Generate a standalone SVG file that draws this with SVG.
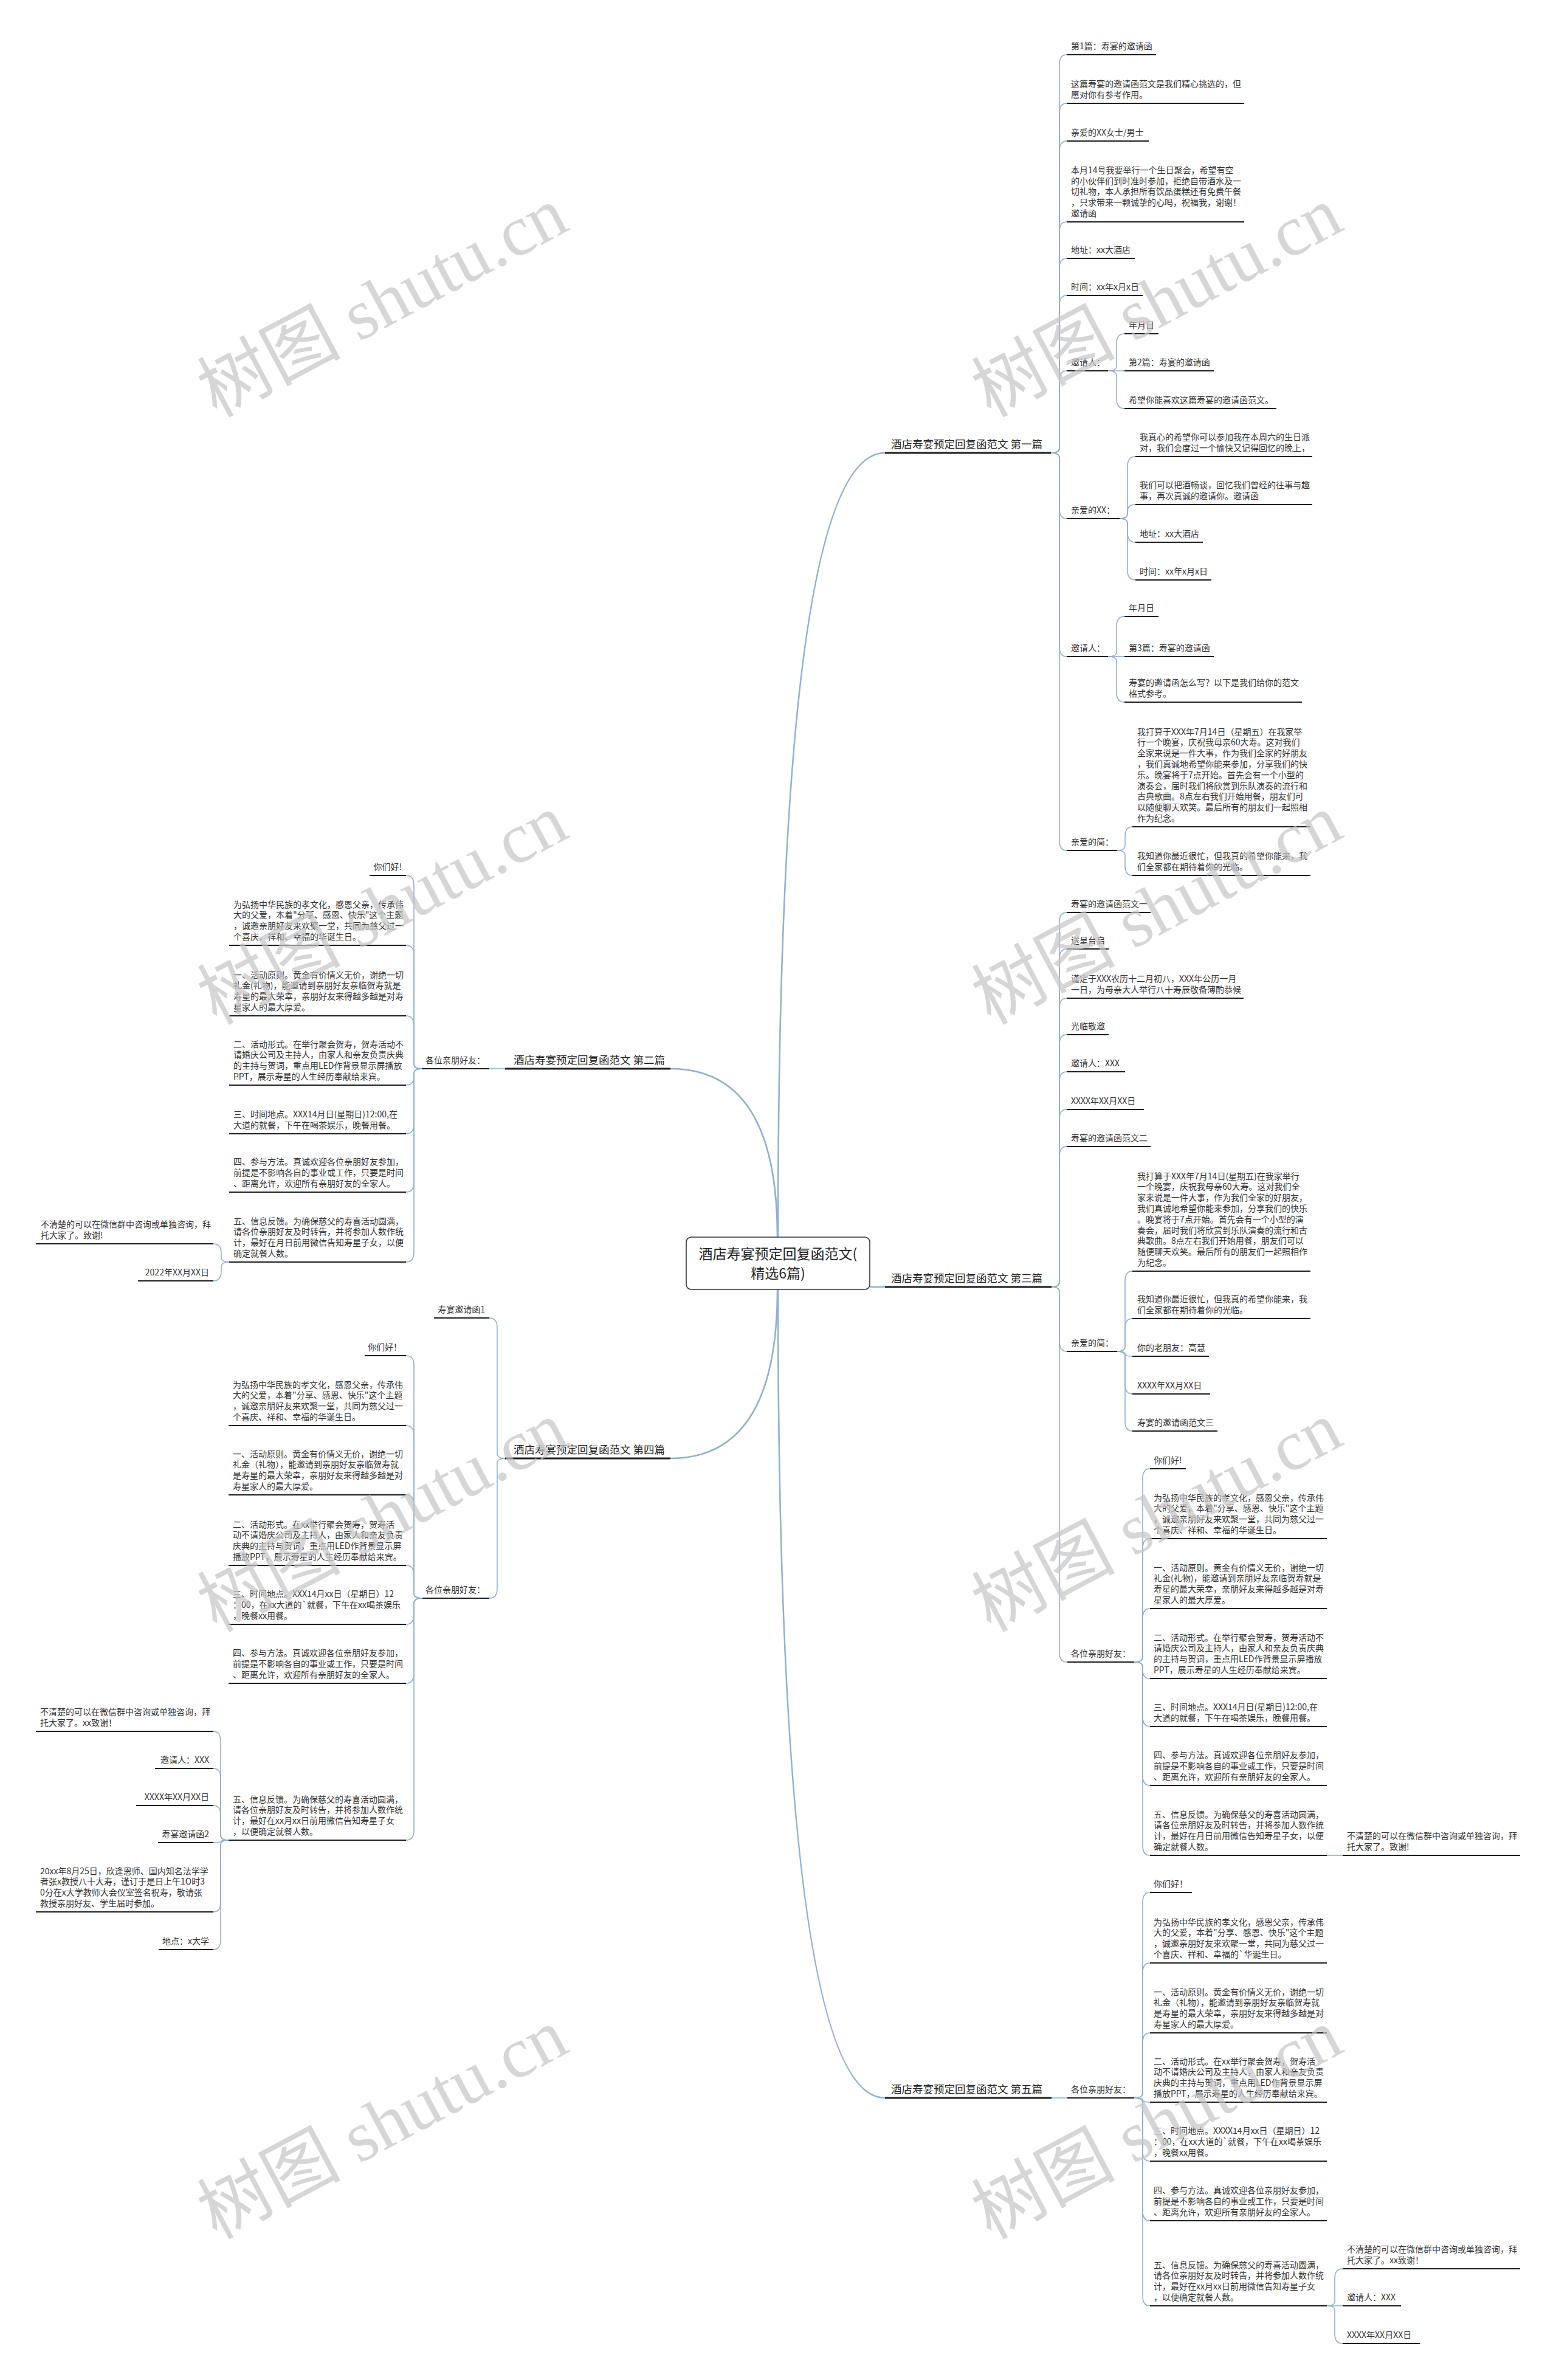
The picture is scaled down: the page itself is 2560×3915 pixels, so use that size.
<svg xmlns="http://www.w3.org/2000/svg" width="2560" height="3915" viewBox="0 0 2560 3915">
<style>
text{font-family:"Noto Sans CJK SC","Liberation Sans",sans-serif;fill:#333;font-size:14px}
.br{font-size:17.5px;fill:#222}
.rt{font-size:23px;fill:#222;text-anchor:middle}
.e{text-anchor:end}
.u{stroke:#1e1e1e;stroke-width:2.2}
.ub{stroke:#1e1e1e;stroke-width:2.8}
.c{fill:none;stroke:#8fb1d3;stroke-width:1.6}
.cm{fill:none;stroke:#8fb1d3;stroke-width:2.6}
.wm{font-family:"Liberation Serif","Noto Sans CJK SC",serif;font-size:118px;fill:#c4c4c4;fill-opacity:.7;text-anchor:middle}
</style>
<rect width="2560" height="3915" fill="#fff"/>
<g id="connectors">
<path class="cm" d="M1280 2035 Q1280 745 1456 745"/>
<path class="cm" d="M1279 2035 Q1279 1758 1103 1758"/>
<path class="cm" d="M1431 2117 H1456"/>
<path class="cm" d="M1279 2121 Q1279 2399 1103 2399"/>
<path class="cm" d="M1280 2121 Q1280 3451 1456 3451"/>
<path class="c" d="M1729 745 Q1743 745 1743 737 V106 Q1743 90 1755 90"/>
<path class="c" d="M1729 745 Q1743 745 1743 737 V186 Q1743 170 1755 170"/>
<path class="c" d="M1729 745 Q1743 745 1743 737 V248 Q1743 232 1755 232"/>
<path class="c" d="M1729 745 Q1743 745 1743 737 V381 Q1743 365 1755 365"/>
<path class="c" d="M1729 745 Q1743 745 1743 737 V441 Q1743 425 1755 425"/>
<path class="c" d="M1729 745 Q1743 745 1743 737 V502 Q1743 486 1755 486"/>
<path class="c" d="M1729 745 Q1743 745 1743 737 V626 Q1743 610 1755 610"/>
<path class="c" d="M1729 745 Q1743 745 1743 753 V837 Q1743 853 1755 853"/>
<path class="c" d="M1729 745 Q1743 745 1743 753 V1064 Q1743 1080 1755 1080"/>
<path class="c" d="M1729 745 Q1743 745 1743 753 V1383 Q1743 1399 1755 1399"/>
<path class="c" d="M1823 610 Q1837 610 1837 602 V565 Q1837 549 1850 549"/>
<path class="c" d="M1823 610 H1850"/>
<path class="c" d="M1823 610 Q1837 610 1837 618 V656 Q1837 672 1850 672"/>
<path class="c" d="M1842 853 Q1855 853 1855 845 V767 Q1855 751 1868 751"/>
<path class="c" d="M1842 853 Q1855 853 1855 845 V841.5 Q1855 830 1868 830"/>
<path class="c" d="M1842 853 Q1855 853 1855 861 V876 Q1855 892 1868 892"/>
<path class="c" d="M1842 853 Q1855 853 1855 861 V938 Q1855 954 1868 954"/>
<path class="c" d="M1823 1080 Q1837 1080 1837 1072 V1030 Q1837 1014 1850 1014"/>
<path class="c" d="M1823 1080 H1850"/>
<path class="c" d="M1823 1080 Q1837 1080 1837 1088 V1139 Q1837 1155 1850 1155"/>
<path class="c" d="M1838 1399 Q1851 1399 1851 1391 V1376 Q1851 1360 1863 1360"/>
<path class="c" d="M1838 1399 Q1851 1399 1851 1407 V1424 Q1851 1440 1863 1440"/>
<path class="c" d="M1730 2117 Q1743 2117 1743 2109 V1517 Q1743 1501 1755 1501"/>
<path class="c" d="M1730 2117 Q1743 2117 1743 2109 V1577 Q1743 1561 1755 1561"/>
<path class="c" d="M1730 2117 Q1743 2117 1743 2109 V1658 Q1743 1642 1755 1642"/>
<path class="c" d="M1730 2117 Q1743 2117 1743 2109 V1718 Q1743 1702 1755 1702"/>
<path class="c" d="M1730 2117 Q1743 2117 1743 2109 V1779 Q1743 1763 1755 1763"/>
<path class="c" d="M1730 2117 Q1743 2117 1743 2109 V1841 Q1743 1825 1755 1825"/>
<path class="c" d="M1730 2117 Q1743 2117 1743 2109 V1902 Q1743 1886 1755 1886"/>
<path class="c" d="M1730 2117 Q1743 2117 1743 2125 V2207 Q1743 2223 1755 2223"/>
<path class="c" d="M1730 2117 Q1743 2117 1743 2125 V2718 Q1743 2734 1755 2734"/>
<path class="c" d="M1838 2223 Q1851 2223 1851 2215 V2107 Q1851 2091 1863 2091"/>
<path class="c" d="M1838 2223 Q1851 2223 1851 2215 V2185 Q1851 2169 1863 2169"/>
<path class="c" d="M1838 2223 Q1851 2223 1851 2227 Q1851 2231 1863 2231"/>
<path class="c" d="M1838 2223 Q1851 2223 1851 2231 V2277 Q1851 2293 1863 2293"/>
<path class="c" d="M1838 2223 Q1851 2223 1851 2231 V2338 Q1851 2354 1863 2354"/>
<path class="c" d="M1866 2734 Q1880 2734 1880 2726 V2432 Q1880 2416 1892 2416"/>
<path class="c" d="M1866 2734 Q1880 2734 1880 2726 V2547 Q1880 2531 1892 2531"/>
<path class="c" d="M1866 2734 Q1880 2734 1880 2726 V2662 Q1880 2646 1892 2646"/>
<path class="c" d="M1866 2734 Q1880 2734 1880 2742 V2747.5 Q1880 2761 1892 2761"/>
<path class="c" d="M1866 2734 Q1880 2734 1880 2742 V2824 Q1880 2840 1892 2840"/>
<path class="c" d="M1866 2734 Q1880 2734 1880 2742 V2921 Q1880 2937 1892 2937"/>
<path class="c" d="M1866 2734 Q1880 2734 1880 2742 V3036 Q1880 3052 1892 3052"/>
<path class="c" d="M2183 3052 H2209"/>
<path class="c" d="M1730 3451 H1756"/>
<path class="c" d="M1866 3451 Q1880 3451 1880 3443 V3129 Q1880 3113 1892 3113"/>
<path class="c" d="M1866 3451 Q1880 3451 1880 3443 V3245 Q1880 3229 1892 3229"/>
<path class="c" d="M1866 3451 Q1880 3451 1880 3443 V3360 Q1880 3344 1892 3344"/>
<path class="c" d="M1866 3451 Q1880 3451 1880 3454.5 Q1880 3458 1892 3458"/>
<path class="c" d="M1866 3451 Q1880 3451 1880 3459 V3539 Q1880 3555 1892 3555"/>
<path class="c" d="M1866 3451 Q1880 3451 1880 3459 V3637 Q1880 3653 1892 3653"/>
<path class="c" d="M1866 3451 Q1880 3451 1880 3459 V3777 Q1880 3793 1892 3793"/>
<path class="c" d="M2183 3793 Q2196 3793 2196 3785 V3748 Q2196 3732 2209 3732"/>
<path class="c" d="M2183 3793 H2209"/>
<path class="c" d="M2183 3793 Q2196 3793 2196 3801 V3839 Q2196 3855 2209 3855"/>
<path class="c" d="M831 1758 H805"/>
<path class="c" d="M694 1758 Q681 1758 681 1750 V1456 Q681 1440 668 1440"/>
<path class="c" d="M694 1758 Q681 1758 681 1750 V1571 Q681 1555 668 1555"/>
<path class="c" d="M694 1758 Q681 1758 681 1750 V1687 Q681 1671 668 1671"/>
<path class="c" d="M694 1758 Q681 1758 681 1766 V1771.5 Q681 1785 668 1785"/>
<path class="c" d="M694 1758 Q681 1758 681 1766 V1849 Q681 1865 668 1865"/>
<path class="c" d="M694 1758 Q681 1758 681 1766 V1945 Q681 1961 668 1961"/>
<path class="c" d="M694 1758 Q681 1758 681 1766 V2060 Q681 2076 668 2076"/>
<path class="c" d="M377 2076 Q364 2076 364 2068 V2062 Q364 2046 351 2046"/>
<path class="c" d="M377 2076 Q364 2076 364 2084 V2091 Q364 2107 351 2107"/>
<path class="c" d="M831 2399 Q818 2399 818 2391 V2184 Q818 2168 805 2168"/>
<path class="c" d="M831 2399 Q818 2399 818 2407 V2613 Q818 2629 805 2629"/>
<path class="c" d="M695 2629 Q681 2629 681 2621 V2246 Q681 2230 668 2230"/>
<path class="c" d="M695 2629 Q681 2629 681 2621 V2361 Q681 2345 668 2345"/>
<path class="c" d="M695 2629 Q681 2629 681 2621 V2475 Q681 2459 668 2459"/>
<path class="c" d="M695 2629 Q681 2629 681 2621 V2591 Q681 2575 668 2575"/>
<path class="c" d="M695 2629 Q681 2629 681 2637 V2656 Q681 2672 668 2672"/>
<path class="c" d="M695 2629 Q681 2629 681 2637 V2753 Q681 2769 668 2769"/>
<path class="c" d="M695 2629 Q681 2629 681 2637 V3011 Q681 3027 668 3027"/>
<path class="c" d="M376 3027 Q363 3027 363 3019 V2864 Q363 2848 351 2848"/>
<path class="c" d="M376 3027 Q363 3027 363 3019 V2925 Q363 2909 351 2909"/>
<path class="c" d="M376 3027 Q363 3027 363 3019 V2986 Q363 2970 351 2970"/>
<path class="c" d="M376 3027 Q363 3027 363 3029 Q363 3031 351 3031"/>
<path class="c" d="M376 3027 Q363 3027 363 3035 V3129 Q363 3145 351 3145"/>
<path class="c" d="M376 3027 Q363 3027 363 3035 V3191 Q363 3207 351 3207"/>
</g>

<g id="root">
<rect x="1129" y="2035" width="302" height="86" rx="8" fill="#fff" stroke="#333" stroke-width="1.6"/>
<text class="rt" x="1280" y="2071">酒店寿宴预定回复函范文(</text>
<text class="rt" x="1280" y="2103">精选6篇)</text>
</g>

<g id="b1"><line class="ub" x1="1456" y1="745" x2="1729" y2="745"/><text class="br" x="1466" y="737">酒店寿宴预定回复函范文 第一篇</text></g>
<g id="b2"><line class="ub" x1="831" y1="1758" x2="1103" y2="1758"/><text class="br e" x="1094" y="1750">酒店寿宴预定回复函范文 第二篇</text></g>
<g id="b3"><line class="ub" x1="1456" y1="2117" x2="1730" y2="2117"/><text class="br" x="1466" y="2109">酒店寿宴预定回复函范文 第三篇</text></g>
<g id="b4"><line class="ub" x1="831" y1="2399" x2="1103" y2="2399"/><text class="br e" x="1094" y="2391">酒店寿宴预定回复函范文 第四篇</text></g>
<g id="b5"><line class="ub" x1="1456" y1="3451" x2="1730" y2="3451"/><text class="br" x="1466" y="3443">酒店寿宴预定回复函范文 第五篇</text></g>

<!-- branch 1 -->
<g id="n1-1"><line class="u" x1="1755" y1="90" x2="1902" y2="90"/><text x="1762" y="81">第1篇：寿宴的邀请函</text></g>
<g id="n1-2"><line class="u" x1="1755" y1="170" x2="2047" y2="170"/><text x="1762" y="143.2">这篇寿宴的邀请函范文是我们精心挑选的，但</text><text x="1762" y="161">愿对你有参考作用。</text></g>
<g id="n1-3"><line class="u" x1="1755" y1="232" x2="1890" y2="232"/><text x="1762" y="223">亲爱的XX女士/男士</text></g>
<g id="n1-4"><line class="u" x1="1755" y1="365" x2="2047" y2="365"/><text x="1762" y="284.8">本月14号我要举行一个生日聚会，希望有空</text><text x="1762" y="302.6">的小伙伴们到时准时参加，拒绝自带酒水及一</text><text x="1762" y="320.4">切礼物，本人承担所有饮品蛋糕还有免费午餐</text><text x="1762" y="338.2">，只求带来一颗诚挚的心吗，祝福我，谢谢！</text><text x="1762" y="356">邀请函</text></g>
<g id="n1-5"><line class="u" x1="1755" y1="425" x2="1867" y2="425"/><text x="1762" y="416">地址：xx大酒店</text></g>
<g id="n1-6"><line class="u" x1="1755" y1="486" x2="1880" y2="486"/><text x="1762" y="477">时间：xx年x月x日</text></g>
<g id="n1-7"><line class="u" x1="1755" y1="610" x2="1823" y2="610"/><text x="1762" y="601">邀请人：</text></g>
<g id="n1-7-1"><line class="u" x1="1850" y1="549" x2="1906" y2="549"/><text x="1857" y="540">年月日</text></g>
<g id="n1-7-2"><line class="u" x1="1850" y1="610" x2="1997" y2="610"/><text x="1857" y="601">第2篇：寿宴的邀请函</text></g>
<g id="n1-7-3"><line class="u" x1="1850" y1="672" x2="2100" y2="672"/><text x="1857" y="663">希望你能喜欢这篇寿宴的邀请函范文。</text></g>
<g id="n1-8"><line class="u" x1="1755" y1="853" x2="1842" y2="853"/><text x="1762" y="844">亲爱的XX：</text></g>
<g id="n1-8-1"><line class="u" x1="1868" y1="751" x2="2159" y2="751"/><text x="1875" y="724.2">我真心的希望你可以参加我在本周六的生日派</text><text x="1875" y="742">对，我们会度过一个愉快又记得回忆的晚上，</text></g>
<g id="n1-8-2"><line class="u" x1="1868" y1="830" x2="2159" y2="830"/><text x="1875" y="803.2">我们可以把酒畅谈，回忆我们曾经的往事与趣</text><text x="1875" y="821">事，再次真诚的邀请你。邀请函</text></g>
<g id="n1-8-3"><line class="u" x1="1868" y1="892" x2="1979" y2="892"/><text x="1875" y="883">地址：xx大酒店</text></g>
<g id="n1-8-4"><line class="u" x1="1868" y1="954" x2="1993" y2="954"/><text x="1875" y="945">时间：xx年x月x日</text></g>
<g id="n1-9"><line class="u" x1="1755" y1="1080" x2="1823" y2="1080"/><text x="1762" y="1071">邀请人：</text></g>
<g id="n1-9-1"><line class="u" x1="1850" y1="1014" x2="1906" y2="1014"/><text x="1857" y="1005">年月日</text></g>
<g id="n1-9-2"><line class="u" x1="1850" y1="1080" x2="1997" y2="1080"/><text x="1857" y="1071">第3篇：寿宴的邀请函</text></g>
<g id="n1-9-3"><line class="u" x1="1850" y1="1155" x2="2142" y2="1155"/><text x="1857" y="1128.2">寿宴的邀请函怎么写？以下是我们给你的范文</text><text x="1857" y="1146">格式参考。</text></g>
<g id="n1-10"><line class="u" x1="1755" y1="1399" x2="1838" y2="1399"/><text x="1762" y="1390">亲爱的简：</text></g>
<g id="n1-10-1"><line class="u" x1="1863" y1="1360" x2="2156" y2="1360"/><text x="1871" y="1208.6">我打算于XXX年7月14日（星期五）在我家举</text><text x="1871" y="1226.4">行一个晚宴，庆祝我母亲60大寿。这对我们</text><text x="1871" y="1244.2">全家来说是一件大事，作为我们全家的好朋友</text><text x="1871" y="1262">，我们真诚地希望你能来参加，分享我们的快</text><text x="1871" y="1279.8">乐。晚宴将于7点开始。首先会有一个小型的</text><text x="1871" y="1297.6">演奏会，届时我们将欣赏到乐队演奏的流行和</text><text x="1871" y="1315.4">古典歌曲。8点左右我们开始用餐，朋友们可</text><text x="1871" y="1333.2">以随便聊天欢笑。最后所有的朋友们一起照相</text><text x="1871" y="1351">作为纪念。</text></g>
<g id="n1-10-2"><line class="u" x1="1863" y1="1440" x2="2156" y2="1440"/><text x="1871" y="1413.2">我知道你最近很忙，但我真的希望你能来，我</text><text x="1871" y="1431">们全家都在期待着你的光临。</text></g>

<!-- branch 3 -->
<g id="n3-1"><line class="u" x1="1755" y1="1501" x2="1893" y2="1501"/><text x="1762" y="1492">寿宴的邀请函范文一</text></g>
<g id="n3-2"><line class="u" x1="1755" y1="1561" x2="1824" y2="1561"/><text x="1762" y="1552">送呈台启</text></g>
<g id="n3-3"><line class="u" x1="1755" y1="1642" x2="2046" y2="1642"/><text x="1762" y="1615.2">谨定于XXX农历十二月初八，XXX年公历一月</text><text x="1762" y="1633">一日，为母亲大人举行八十寿辰敬备薄酌恭候</text></g>
<g id="n3-4"><line class="u" x1="1755" y1="1702" x2="1824" y2="1702"/><text x="1762" y="1693">光临敬邀</text></g>
<g id="n3-5"><line class="u" x1="1755" y1="1763" x2="1851" y2="1763"/><text x="1762" y="1754">邀请人：XXX</text></g>
<g id="n3-6"><line class="u" x1="1755" y1="1825" x2="1882" y2="1825"/><text x="1762" y="1816">XXXX年XX月XX日</text></g>
<g id="n3-7"><line class="u" x1="1755" y1="1886" x2="1893" y2="1886"/><text x="1762" y="1877">寿宴的邀请函范文二</text></g>
<g id="n3-8"><line class="u" x1="1755" y1="2223" x2="1838" y2="2223"/><text x="1762" y="2214">亲爱的简：</text></g>
<g id="n3-8-1"><line class="u" x1="1863" y1="2091" x2="2156" y2="2091"/><text x="1871" y="1939.6">我打算于XXX年7月14日(星期五)在我家举行</text><text x="1871" y="1957.4">一个晚宴，庆祝我母亲60大寿。这对我们全</text><text x="1871" y="1975.2">家来说是一件大事，作为我们全家的好朋友，</text><text x="1871" y="1993">我们真诚地希望你能来参加，分享我们的快乐</text><text x="1871" y="2010.8">。晚宴将于7点开始。首先会有一个小型的演</text><text x="1871" y="2028.6">奏会，届时我们将欣赏到乐队演奏的流行和古</text><text x="1871" y="2046.4">典歌曲。8点左右我们开始用餐，朋友们可以</text><text x="1871" y="2064.2">随便聊天欢笑。最后所有的朋友们一起照相作</text><text x="1871" y="2082">为纪念。</text></g>
<g id="n3-8-2"><line class="u" x1="1863" y1="2169" x2="2156" y2="2169"/><text x="1871" y="2142.2">我知道你最近很忙，但我真的希望你能来，我</text><text x="1871" y="2160">们全家都在期待着你的光临。</text></g>
<g id="n3-8-3"><line class="u" x1="1863" y1="2231" x2="1989" y2="2231"/><text x="1871" y="2222">你的老朋友：高慧</text></g>
<g id="n3-8-4"><line class="u" x1="1863" y1="2293" x2="1991" y2="2293"/><text x="1871" y="2284">XXXX年XX月XX日</text></g>
<g id="n3-8-5"><line class="u" x1="1863" y1="2354" x2="2003" y2="2354"/><text x="1871" y="2345">寿宴的邀请函范文三</text></g>
<g id="n3-9"><line class="u" x1="1756" y1="2734" x2="1866" y2="2734"/><text x="1762" y="2725">各位亲朋好友：</text></g>
<g id="n3-9-1"><line class="u" x1="1892" y1="2416" x2="1951" y2="2416"/><text x="1898" y="2407">你们好!</text></g>
<g id="n3-9-2"><line class="u" x1="1892" y1="2531" x2="2183" y2="2531"/><text x="1898" y="2468.6">为弘扬中华民族的孝文化，感恩父亲，传承伟</text><text x="1898" y="2486.4">大的父爱，本着"分享、感恩、快乐"这个主题</text><text x="1898" y="2504.2">，诚邀亲朋好友来欢聚一堂，共同为慈父过一</text><text x="1898" y="2522">个喜庆、祥和、幸福的华诞生日。</text></g>
<g id="n3-9-3"><line class="u" x1="1892" y1="2646" x2="2183" y2="2646"/><text x="1898" y="2583.6">一、活动原则。黄金有价情义无价，谢绝一切</text><text x="1898" y="2601.4">礼金(礼物)，能邀请到亲朋好友亲临贺寿就是</text><text x="1898" y="2619.2">寿星的最大荣幸，亲朋好友来得越多越是对寿</text><text x="1898" y="2637">星家人的最大厚爱。</text></g>
<g id="n3-9-4"><line class="u" x1="1892" y1="2761" x2="2183" y2="2761"/><text x="1898" y="2698.6">二、活动形式。在举行聚会贺寿，贺寿活动不</text><text x="1898" y="2716.4">请婚庆公司及主持人，由家人和亲友负责庆典</text><text x="1898" y="2734.2">的主持与贺词，重点用LED作背景显示屏播放</text><text x="1898" y="2752">PPT，展示寿星的人生经历奉献给来宾。</text></g>
<g id="n3-9-5"><line class="u" x1="1892" y1="2840" x2="2183" y2="2840"/><text x="1898" y="2813.2">三、时间地点。XXX14月日(星期日)12:00,在</text><text x="1898" y="2831">大道的就餐，下午在喝茶娱乐，晚餐用餐。</text></g>
<g id="n3-9-6"><line class="u" x1="1892" y1="2937" x2="2183" y2="2937"/><text x="1898" y="2892.4">四、参与方法。真诚欢迎各位亲朋好友参加，</text><text x="1898" y="2910.2">前提是不影响各自的事业或工作，只要是时间</text><text x="1898" y="2928">、距离允许，欢迎所有亲朋好友的全家人。</text></g>
<g id="n3-9-7"><line class="u" x1="1892" y1="3052" x2="2183" y2="3052"/><text x="1898" y="2989.6">五、信息反馈。为确保慈父的寿喜活动圆满，</text><text x="1898" y="3007.4">请各位亲朋好友及时转告，并将参加人数作统</text><text x="1898" y="3025.2">计，最好在月日前用微信告知寿星子女，以便</text><text x="1898" y="3043">确定就餐人数。</text></g>
<g id="n3-9-7-1"><line class="u" x1="2209" y1="3052" x2="2501" y2="3052"/><text x="2216" y="3025.2">不清楚的可以在微信群中咨询或单独咨询，拜</text><text x="2216" y="3043">托大家了。致谢!</text></g>

<!-- branch 5 -->
<g id="n5-1"><line class="u" x1="1756" y1="3451" x2="1866" y2="3451"/><text x="1762" y="3442">各位亲朋好友：</text></g>
<g id="n5-1-1"><line class="u" x1="1892" y1="3113" x2="1961" y2="3113"/><text x="1898" y="3104">你们好！</text></g>
<g id="n5-1-2"><line class="u" x1="1892" y1="3229" x2="2183" y2="3229"/><text x="1898" y="3166.6">为弘扬中华民族的孝文化，感恩父亲，传承伟</text><text x="1898" y="3184.4">大的父爱，本着"分享、感恩、快乐"这个主题</text><text x="1898" y="3202.2">，诚邀亲朋好友来欢聚一堂，共同为慈父过一</text><text x="1898" y="3220">个喜庆、祥和、幸福的`华诞生日。</text></g>
<g id="n5-1-3"><line class="u" x1="1892" y1="3344" x2="2183" y2="3344"/><text x="1898" y="3281.6">一、活动原则。黄金有价情义无价，谢绝一切</text><text x="1898" y="3299.4">礼金（礼物），能邀请到亲朋好友亲临贺寿就</text><text x="1898" y="3317.2">是寿星的最大荣幸，亲朋好友来得越多越是对</text><text x="1898" y="3335">寿星家人的最大厚爱。</text></g>
<g id="n5-1-4"><line class="u" x1="1892" y1="3458" x2="2183" y2="3458"/><text x="1898" y="3395.6">二、活动形式。在xx举行聚会贺寿，贺寿活</text><text x="1898" y="3413.4">动不请婚庆公司及主持人，由家人和亲友负责</text><text x="1898" y="3431.2">庆典的主持与贺词，重点用LED作背景显示屏</text><text x="1898" y="3449">播放PPT，展示寿星的人生经历奉献给来宾。</text></g>
<g id="n5-1-5"><line class="u" x1="1892" y1="3555" x2="2183" y2="3555"/><text x="1898" y="3510.4">三、时间地点。XXXX14月xx日（星期日）12</text><text x="1898" y="3528.2">：00，在xx大道的`就餐，下午在xx喝茶娱乐</text><text x="1898" y="3546">，晚餐xx用餐。</text></g>
<g id="n5-1-6"><line class="u" x1="1892" y1="3653" x2="2183" y2="3653"/><text x="1898" y="3608.4">四、参与方法。真诚欢迎各位亲朋好友参加，</text><text x="1898" y="3626.2">前提是不影响各自的事业或工作，只要是时间</text><text x="1898" y="3644">、距离允许，欢迎所有亲朋好友的全家人。</text></g>
<g id="n5-1-7"><line class="u" x1="1892" y1="3793" x2="2183" y2="3793"/><text x="1898" y="3730.6">五、信息反馈。为确保慈父的寿喜活动圆满，</text><text x="1898" y="3748.4">请各位亲朋好友及时转告，并将参加人数作统</text><text x="1898" y="3766.2">计，最好在xx月xx日前用微信告知寿星子女</text><text x="1898" y="3784">，以便确定就餐人数。</text></g>
<g id="n5-1-7-1"><line class="u" x1="2209" y1="3732" x2="2501" y2="3732"/><text x="2216" y="3705.2">不清楚的可以在微信群中咨询或单独咨询，拜</text><text x="2216" y="3723">托大家了。xx致谢！</text></g>
<g id="n5-1-7-2"><line class="u" x1="2209" y1="3793" x2="2305" y2="3793"/><text x="2216" y="3784">邀请人：XXX</text></g>
<g id="n5-1-7-3"><line class="u" x1="2209" y1="3855" x2="2336" y2="3855"/><text x="2216" y="3846">XXXX年XX月XX日</text></g>

<!-- branch 2 -->
<g id="n2-1"><line class="u" x1="694" y1="1758" x2="805" y2="1758"/><text class="e" x="798" y="1749">各位亲朋好友：</text></g>
<g id="n2-1-1"><line class="u" x1="608" y1="1440" x2="668" y2="1440"/><text class="e" x="661" y="1431">你们好!</text></g>
<g id="n2-1-2"><line class="u" x1="377" y1="1555" x2="668" y2="1555"/><text x="384" y="1492.6">为弘扬中华民族的孝文化，感恩父亲，传承伟</text><text x="384" y="1510.4">大的父爱，本着"分享、感恩、快乐"这个主题</text><text x="384" y="1528.2">，诚邀亲朋好友来欢聚一堂，共同为慈父过一</text><text x="384" y="1546">个喜庆、祥和、幸福的华诞生日。</text></g>
<g id="n2-1-3"><line class="u" x1="377" y1="1671" x2="668" y2="1671"/><text x="384" y="1608.6">一、活动原则。黄金有价情义无价，谢绝一切</text><text x="384" y="1626.4">礼金(礼物)，能邀请到亲朋好友亲临贺寿就是</text><text x="384" y="1644.2">寿星的最大荣幸，亲朋好友来得越多越是对寿</text><text x="384" y="1662">星家人的最大厚爱。</text></g>
<g id="n2-1-4"><line class="u" x1="377" y1="1785" x2="668" y2="1785"/><text x="384" y="1722.6">二、活动形式。在举行聚会贺寿，贺寿活动不</text><text x="384" y="1740.4">请婚庆公司及主持人，由家人和亲友负责庆典</text><text x="384" y="1758.2">的主持与贺词，重点用LED作背景显示屏播放</text><text x="384" y="1776">PPT，展示寿星的人生经历奉献给来宾。</text></g>
<g id="n2-1-5"><line class="u" x1="377" y1="1865" x2="668" y2="1865"/><text x="384" y="1838.2">三、时间地点。XXX14月日(星期日)12:00,在</text><text x="384" y="1856">大道的就餐，下午在喝茶娱乐，晚餐用餐。</text></g>
<g id="n2-1-6"><line class="u" x1="377" y1="1961" x2="668" y2="1961"/><text x="384" y="1916.4">四、参与方法。真诚欢迎各位亲朋好友参加，</text><text x="384" y="1934.2">前提是不影响各自的事业或工作，只要是时间</text><text x="384" y="1952">、距离允许，欢迎所有亲朋好友的全家人。</text></g>
<g id="n2-1-7"><line class="u" x1="377" y1="2076" x2="668" y2="2076"/><text x="384" y="2013.6">五、信息反馈。为确保慈父的寿喜活动圆满，</text><text x="384" y="2031.4">请各位亲朋好友及时转告，并将参加人数作统</text><text x="384" y="2049.2">计，最好在月日前用微信告知寿星子女，以便</text><text x="384" y="2067">确定就餐人数。</text></g>
<g id="n2-1-7-1"><line class="u" x1="59" y1="2046" x2="351" y2="2046"/><text x="67" y="2019.2">不清楚的可以在微信群中咨询或单独咨询，拜</text><text x="67" y="2037">托大家了。致谢!</text></g>
<g id="n2-1-7-2"><line class="u" x1="227" y1="2107" x2="351" y2="2107"/><text class="e" x="344" y="2098">2022年XX月XX日</text></g>

<!-- branch 4 -->
<g id="n4-1"><line class="u" x1="714" y1="2168" x2="805" y2="2168"/><text class="e" x="798" y="2159">寿宴邀请函1</text></g>
<g id="n4-2"><line class="u" x1="695" y1="2629" x2="805" y2="2629"/><text class="e" x="798" y="2620">各位亲朋好友：</text></g>
<g id="n4-2-1"><line class="u" x1="600" y1="2230" x2="668" y2="2230"/><text class="e" x="661" y="2221">你们好！</text></g>
<g id="n4-2-2"><line class="u" x1="376" y1="2345" x2="668" y2="2345"/><text x="383" y="2282.6">为弘扬中华民族的孝文化，感恩父亲，传承伟</text><text x="383" y="2300.4">大的父爱，本着"分享、感恩、快乐"这个主题</text><text x="383" y="2318.2">，诚邀亲朋好友来欢聚一堂，共同为慈父过一</text><text x="383" y="2336">个喜庆、祥和、幸福的华诞生日。</text></g>
<g id="n4-2-3"><line class="u" x1="376" y1="2459" x2="668" y2="2459"/><text x="383" y="2396.6">一、活动原则。黄金有价情义无价，谢绝一切</text><text x="383" y="2414.4">礼金（礼物），能邀请到亲朋好友亲临贺寿就</text><text x="383" y="2432.2">是寿星的最大荣幸，亲朋好友来得越多越是对</text><text x="383" y="2450">寿星家人的最大厚爱。</text></g>
<g id="n4-2-4"><line class="u" x1="376" y1="2575" x2="668" y2="2575"/><text x="383" y="2512.6">二、活动形式。在xx举行聚会贺寿，贺寿活</text><text x="383" y="2530.4">动不请婚庆公司及主持人，由家人和亲友负责</text><text x="383" y="2548.2">庆典的主持与贺词，重点用LED作背景显示屏</text><text x="383" y="2566">播放PPT，展示寿星的人生经历奉献给来宾。</text></g>
<g id="n4-2-5"><line class="u" x1="376" y1="2672" x2="668" y2="2672"/><text x="383" y="2627.4">三、时间地点。XXX14月xx日（星期日）12</text><text x="383" y="2645.2">：00，在xx大道的`就餐，下午在xx喝茶娱乐</text><text x="383" y="2663">，晚餐xx用餐。</text></g>
<g id="n4-2-6"><line class="u" x1="376" y1="2769" x2="668" y2="2769"/><text x="383" y="2724.4">四、参与方法。真诚欢迎各位亲朋好友参加，</text><text x="383" y="2742.2">前提是不影响各自的事业或工作，只要是时间</text><text x="383" y="2760">、距离允许，欢迎所有亲朋好友的全家人。</text></g>
<g id="n4-2-7"><line class="u" x1="376" y1="3027" x2="668" y2="3027"/><text x="383" y="2964.6">五、信息反馈。为确保慈父的寿喜活动圆满，</text><text x="383" y="2982.4">请各位亲朋好友及时转告，并将参加人数作统</text><text x="383" y="3000.2">计，最好在xx月xx日前用微信告知寿星子女</text><text x="383" y="3018">，以便确定就餐人数。</text></g>
<g id="n4-2-7-1"><line class="u" x1="59" y1="2848" x2="351" y2="2848"/><text x="66" y="2821.2">不清楚的可以在微信群中咨询或单独咨询，拜</text><text x="66" y="2839">托大家了。xx致谢！</text></g>
<g id="n4-2-7-2"><line class="u" x1="255" y1="2909" x2="351" y2="2909"/><text class="e" x="344" y="2900">邀请人：XXX</text></g>
<g id="n4-2-7-3"><line class="u" x1="224" y1="2970" x2="351" y2="2970"/><text class="e" x="344" y="2961">XXXX年XX月XX日</text></g>
<g id="n4-2-7-4"><line class="u" x1="260" y1="3031" x2="351" y2="3031"/><text class="e" x="344" y="3022">寿宴邀请函2</text></g>
<g id="n4-2-7-5"><line class="u" x1="59" y1="3145" x2="351" y2="3145"/><text x="66" y="3082.6">20xx年8月25日，欣逢恩师、国内知名法学学</text><text x="66" y="3100.4">者张x教授八十大寿，谨订于是日上午1O时3</text><text x="66" y="3118.2">0分在x大学教师大会仪室签名祝寿，敬请张</text><text x="66" y="3136">教授亲朋好友、学生届时参加。</text></g>
<g id="n4-2-7-6"><line class="u" x1="261" y1="3207" x2="351" y2="3207"/><text class="e" x="344" y="3198">地点：x大学</text></g>

<g id="watermarks">
<text class="wm" x="648" y="532" transform="rotate(-28 648 532)">树图 shutu.cn</text>
<text class="wm" x="1922" y="532" transform="rotate(-28 1922 532)">树图 shutu.cn</text>
<text class="wm" x="648" y="1531" transform="rotate(-28 648 1531)">树图 shutu.cn</text>
<text class="wm" x="1922" y="1531" transform="rotate(-28 1922 1531)">树图 shutu.cn</text>
<text class="wm" x="648" y="2530" transform="rotate(-28 648 2530)">树图 shutu.cn</text>
<text class="wm" x="1922" y="2530" transform="rotate(-28 1922 2530)">树图 shutu.cn</text>
<text class="wm" x="648" y="3529" transform="rotate(-28 648 3529)">树图 shutu.cn</text>
<text class="wm" x="1922" y="3529" transform="rotate(-28 1922 3529)">树图 shutu.cn</text>
</g>
</svg>
